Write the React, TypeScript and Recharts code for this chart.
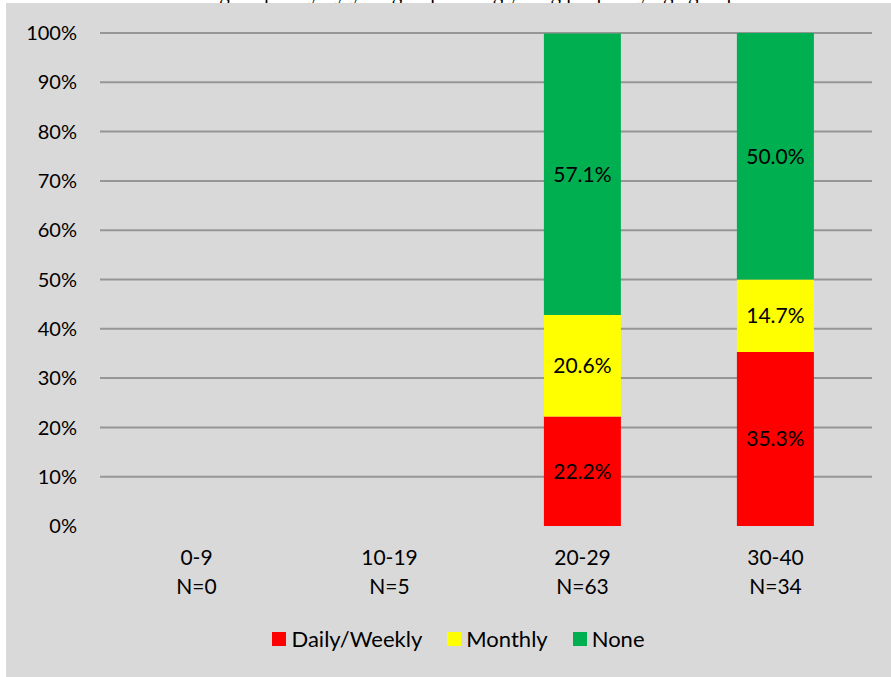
import { Bar, BarChart, CartesianGrid, LabelList, Legend, XAxis, YAxis } from 'recharts';

const categories = ['0-9', '10-19', '20-29', '30-40'];
const sampleSizes = ['N=0', 'N=5', 'N=63', 'N=34'];
const dailyWeekly = [0, 0, 22.2, 35.3];
const monthly = [0, 0, 20.6, 14.7];
const none = [0, 0, 57.1, 50.0];
const yTicks = [0, 10, 20, 30, 40, 50, 60, 70, 80, 90, 100];

const seriesNames = ['Daily/Weekly', 'Monthly', 'None'];
const seriesColors = ['#ff0000', '#ffff00', '#00b050'];

const data = categories.map((c, i) => ({
  name: c,
  daily: dailyWeekly[i],
  monthly: monthly[i],
  none: none[i],
}));

const FONT = 'Lato, "Open Sans", sans-serif';

function XTick(props: any) {
  const { x, y, index } = props;
  return (
    <g>
      <text x={x} y={y + 39} textAnchor="middle" fontFamily={FONT} fontSize={21} fill="#000">
        {categories[index]}
      </text>
      <text x={x} y={y + 68} textAnchor="middle" fontFamily={FONT} fontSize={21} fill="#000">
        {sampleSizes[index]}
      </text>
    </g>
  );
}

function LegendBox() {
  return (
    <div style={{ height: 60, paddingLeft: 39, boxSizing: 'border-box' }}>
      <div
        style={{
          position: 'relative',
          top: 10,
          display: 'flex',
          justifyContent: 'center',
          fontFamily: FONT,
          fontSize: 22,
          lineHeight: '24px',
          color: '#000',
        }}
      >
        {seriesNames.map((n, i) => (
          <div key={n} style={{ display: 'flex', alignItems: 'center', height: 24, marginRight: i < 2 ? 25 : 0 }}>
            <span style={{ width: 14, height: 14, background: seriesColors[i], marginRight: 5 }} />
            <span>{n}</span>
          </div>
        ))}
      </div>
    </div>
  );
}

const pct = (v: any) => (v ? `${Number(v).toFixed(1)}%` : '');

export default function App() {
  return (
    <div style={{ position: 'relative', width: 891, height: 677, background: '#fff', overflow: 'hidden' }}>
      <style>{'body{margin:0}'}</style>
      <div
        style={{
          position: 'absolute',
          top: -17,
          left: 0,
          width: 891,
          textAlign: 'center',
          fontFamily: '"Liberation Serif", "Times New Roman", serif',
          fontSize: 21,
          lineHeight: '20px',
          color: '#000',
          whiteSpace: 'nowrap',
        }}
      >
        Drinking frequency by year group among young people by age group
      </div>
      <div style={{ position: 'absolute', left: 6, top: 3, width: 885, height: 674, background: '#d9d9d9' }}>
        <BarChart
          width={885}
          height={674}
          data={data}
          margin={{ top: 30, right: 19, left: 0, bottom: 0 }}
          barCategoryGap="30%"
        >
          <CartesianGrid
            vertical={false}
            stroke="#969696"
            strokeWidth={2}
            horizontalValues={yTicks.slice(1)}
          />
          <XAxis
            dataKey="name"
            axisLine={false}
            tickLine={false}
            tickSize={0}
            tickMargin={0}
            height={91}
            interval={0}
            tick={<XTick />}
          />
          <YAxis
            domain={[0, 100]}
            ticks={yTicks}
            tickFormatter={(v) => `${v}%`}
            axisLine={false}
            tickLine={false}
            tickSize={0}
            tickMargin={23}
            width={94}
            tick={{ fontFamily: FONT, fontSize: 20, fill: '#000' }}
          />
          <Legend verticalAlign="bottom" content={<LegendBox />} />
          <Bar dataKey="daily" name={seriesNames[0]} stackId="a" fill={seriesColors[0]} isAnimationActive={false}>
            <LabelList dataKey="daily" position="center" formatter={pct} fill="#000" fontFamily={FONT} fontSize={21} />
          </Bar>
          <Bar dataKey="monthly" name={seriesNames[1]} stackId="a" fill={seriesColors[1]} isAnimationActive={false}>
            <LabelList dataKey="monthly" position="center" formatter={pct} fill="#000" fontFamily={FONT} fontSize={21} />
          </Bar>
          <Bar dataKey="none" name={seriesNames[2]} stackId="a" fill={seriesColors[2]} isAnimationActive={false}>
            <LabelList dataKey="none" position="center" formatter={pct} fill="#000" fontFamily={FONT} fontSize={21} />
          </Bar>
        </BarChart>
      </div>
    </div>
  );
}
